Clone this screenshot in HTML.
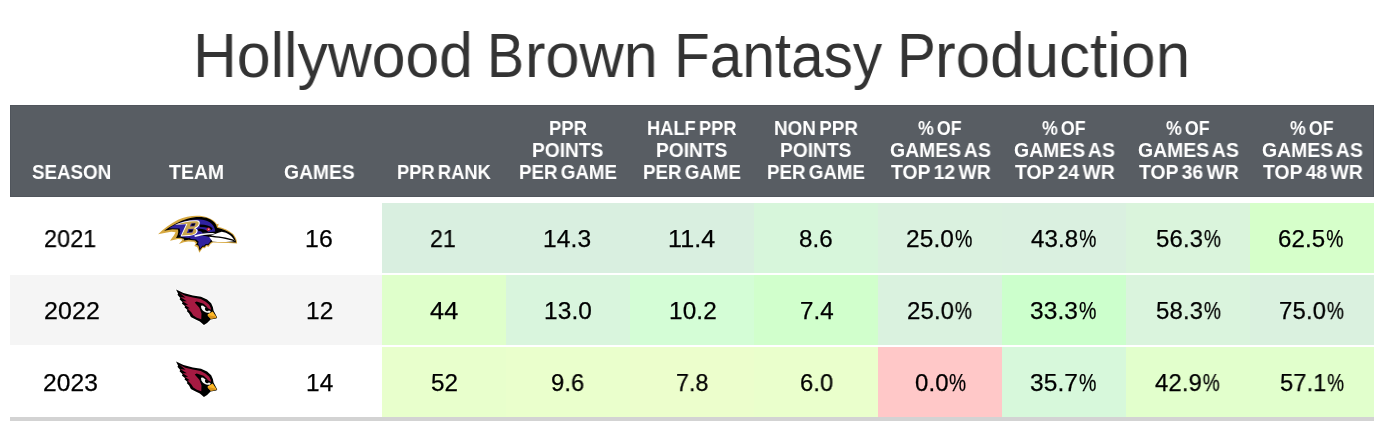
<!DOCTYPE html><html><head><meta charset="utf-8"><title>Hollywood Brown Fantasy Production</title><style>
html,body{margin:0;padding:0;background:#fff;}
body{width:1384px;height:428px;position:relative;overflow:hidden;font-family:"Liberation Sans",sans-serif;}
.a{position:absolute;}
.w,.h,.ct{will-change:transform;}
.w,.h{position:absolute;white-space:nowrap;transform-origin:0 0;}
.w{color:#333;font-size:63px;line-height:72px;}
.h{color:#fff;font-weight:bold;font-size:19.5px;line-height:22px;word-spacing:-1.9px;}
.c{position:absolute;height:70px;width:124px;}
.ct{position:absolute;white-space:nowrap;transform-origin:0 0;color:#000;font-size:24px;line-height:72px;height:70px;letter-spacing:0.1px;-webkit-text-stroke:0.25px #000;}
.p{display:inline-block;width:17.6px;transform:scaleX(0.8);transform-origin:0 50%;margin-left:0.8px;}
</style></head><body>
<div class="a" style="left:10px;top:105px;width:1364px;height:92px;background:#585d63;box-shadow:inset 0 0 0 1px #50555c;"></div>
<div class="c" style="left:382px;top:203px;background:#D9EFE0;"></div>
<div class="c" style="left:506px;top:203px;background:#D9EFE0;"></div>
<div class="c" style="left:630px;top:203px;background:#D9EFE0;"></div>
<div class="c" style="left:754px;top:203px;background:#D7F6DB;"></div>
<div class="c" style="left:878px;top:203px;background:#DAF1DF;"></div>
<div class="c" style="left:1002px;top:203px;background:#DAF0E0;"></div>
<div class="c" style="left:1126px;top:203px;background:#DAF4DC;"></div>
<div class="c" style="left:1250px;top:203px;background:#D6FFCA;"></div>
<div class="a" style="left:10px;top:275px;width:372px;height:70px;background:#f5f5f5;"></div>
<div class="c" style="left:382px;top:275px;background:#DFFFCB;"></div>
<div class="c" style="left:506px;top:275px;background:#D9F5DD;"></div>
<div class="c" style="left:630px;top:275px;background:#D4FDD6;"></div>
<div class="c" style="left:754px;top:275px;background:#D1FFCC;"></div>
<div class="c" style="left:878px;top:275px;background:#DAF2DF;"></div>
<div class="c" style="left:1002px;top:275px;background:#CCFFCC;"></div>
<div class="c" style="left:1126px;top:275px;background:#DAF4DD;"></div>
<div class="c" style="left:1250px;top:275px;background:#DAF1DF;"></div>
<div class="c" style="left:382px;top:347px;background:#E8FFCC;"></div>
<div class="c" style="left:506px;top:347px;background:#EAFFCC;"></div>
<div class="c" style="left:630px;top:347px;background:#ECFECC;"></div>
<div class="c" style="left:754px;top:347px;background:#EAFFCC;"></div>
<div class="c" style="left:878px;top:347px;background:#FFC8C8;"></div>
<div class="c" style="left:1002px;top:347px;background:#D7F8DB;"></div>
<div class="c" style="left:1126px;top:347px;background:#E2FFCC;"></div>
<div class="c" style="left:1250px;top:347px;background:#E1FFCC;"></div>
<div class="w" style="left:192.70px;top:19px;transform:scaleX(0.9634);">Hollywood</div>
<div class="w" style="left:487.40px;top:19px;transform:scaleX(0.8824);">B</div>
<div class="w" style="left:524.90px;top:19px;transform:scaleX(0.9725);">rown</div>
<div class="w" style="left:674.20px;top:19px;transform:scaleX(0.9292);">Fantasy</div>
<div class="w" style="left:896.70px;top:19px;transform:scaleX(0.9244);">P</div>
<div class="w" style="left:934.70px;top:19px;transform:scaleX(0.9842);">roduction</div>
<div class="h" style="left:32.00px;top:161px;transform:scaleX(0.9625);">SEASON</div>
<div class="h" style="left:168.65px;top:161px;transform:scaleX(0.9964);">TEAM</div>
<div class="h" style="left:284.35px;top:161px;transform:scaleX(0.9886);">GAMES</div>
<div class="h" style="left:397.00px;top:161px;transform:scaleX(0.9388);">PPR RANK</div>
<div class="h" style="left:549.00px;top:117px;transform:scaleX(0.9474);">PPR</div>
<div class="h" style="left:532.40px;top:139px;transform:scaleX(0.9831);">POINTS</div>
<div class="h" style="left:518.75px;top:161px;transform:scaleX(0.9601);">PER GAME</div>
<div class="h" style="left:647.25px;top:117px;transform:scaleX(0.9362);">HALF PPR</div>
<div class="h" style="left:656.40px;top:139px;transform:scaleX(0.9831);">POINTS</div>
<div class="h" style="left:642.75px;top:161px;transform:scaleX(0.9601);">PER GAME</div>
<div class="h" style="left:774.10px;top:117px;transform:scaleX(0.9671);">NON PPR</div>
<div class="h" style="left:780.40px;top:139px;transform:scaleX(0.9831);">POINTS</div>
<div class="h" style="left:766.75px;top:161px;transform:scaleX(0.9601);">PER GAME</div>
<div class="h" style="left:918.40px;top:117px;transform:scaleX(0.9089);">% OF</div>
<div class="h" style="left:889.95px;top:139px;transform:scaleX(0.9940);">GAMES AS</div>
<div class="h" style="left:890.60px;top:161px;transform:scaleX(0.9920);">TOP 12 WR</div>
<div class="h" style="left:1042.40px;top:117px;transform:scaleX(0.9089);">% OF</div>
<div class="h" style="left:1013.95px;top:139px;transform:scaleX(0.9940);">GAMES AS</div>
<div class="h" style="left:1014.60px;top:161px;transform:scaleX(0.9920);">TOP 24 WR</div>
<div class="h" style="left:1166.40px;top:117px;transform:scaleX(0.9089);">% OF</div>
<div class="h" style="left:1137.95px;top:139px;transform:scaleX(0.9940);">GAMES AS</div>
<div class="h" style="left:1138.60px;top:161px;transform:scaleX(0.9920);">TOP 36 WR</div>
<div class="h" style="left:1290.40px;top:117px;transform:scaleX(0.9089);">% OF</div>
<div class="h" style="left:1261.95px;top:139px;transform:scaleX(0.9940);">GAMES AS</div>
<div class="h" style="left:1262.60px;top:161px;transform:scaleX(0.9920);">TOP 48 WR</div>
<div class="ct" style="left:44.00px;top:203px;transform:scaleX(0.9728);">2021</div>
<div class="ct" style="left:305.40px;top:203px;transform:scaleX(1.0339);">16</div>
<div class="ct" style="left:429.60px;top:203px;transform:scaleX(0.9609);">21</div>
<div class="ct" style="left:543.10px;top:203px;transform:scaleX(1.0230);">14.3</div>
<div class="ct" style="left:667.80px;top:203px;transform:scaleX(1.0468);">11.4</div>
<div class="ct" style="left:798.90px;top:203px;transform:scaleX(1.0067);">8.6</div>
<div class="ct" style="left:906.10px;top:203px;transform:scaleX(1.0191);">25.0<span class="p">%</span></div>
<div class="ct" style="left:1030.90px;top:203px;transform:scaleX(1.0032);">43.8<span class="p">%</span></div>
<div class="ct" style="left:1155.50px;top:203px;transform:scaleX(0.9969);">56.3<span class="p">%</span></div>
<div class="ct" style="left:1278.40px;top:203px;transform:scaleX(1.0033);">62.5<span class="p">%</span></div>
<div class="ct" style="left:43.50px;top:275px;transform:scaleX(1.0394);">2022</div>
<div class="ct" style="left:305.80px;top:275px;transform:scaleX(1.0173);">12</div>
<div class="ct" style="left:430.20px;top:275px;transform:scaleX(1.0539);">44</div>
<div class="ct" style="left:543.50px;top:275px;transform:scaleX(1.0184);">13.0</div>
<div class="ct" style="left:668.50px;top:275px;transform:scaleX(1.0138);">10.2</div>
<div class="ct" style="left:799.70px;top:275px;transform:scaleX(1.0067);">7.4</div>
<div class="ct" style="left:906.80px;top:275px;transform:scaleX(0.9969);">25.0<span class="p">%</span></div>
<div class="ct" style="left:1030.40px;top:275px;transform:scaleX(1.0191);">33.3<span class="p">%</span></div>
<div class="ct" style="left:1155.50px;top:275px;transform:scaleX(0.9969);">58.3<span class="p">%</span></div>
<div class="ct" style="left:1278.80px;top:275px;transform:scaleX(0.9969);">75.0<span class="p">%</span></div>
<div class="ct" style="left:43.40px;top:347px;transform:scaleX(1.0232);">2023</div>
<div class="ct" style="left:305.80px;top:347px;transform:scaleX(1.0173);">14</div>
<div class="ct" style="left:431.40px;top:347px;transform:scaleX(1.0085);">52</div>
<div class="ct" style="left:550.80px;top:347px;transform:scaleX(0.9879);">9.6</div>
<div class="ct" style="left:675.90px;top:347px;transform:scaleX(0.9629);">7.8</div>
<div class="ct" style="left:800.00px;top:347px;transform:scaleX(0.9879);">6.0</div>
<div class="ct" style="left:914.90px;top:347px;transform:scaleX(1.0002);">0.0<span class="p">%</span></div>
<div class="ct" style="left:1030.40px;top:347px;transform:scaleX(1.0191);">35.7<span class="p">%</span></div>
<div class="ct" style="left:1155.20px;top:347px;transform:scaleX(0.9938);">42.9<span class="p">%</span></div>
<div class="ct" style="left:1279.60px;top:347px;transform:scaleX(0.9843);">57.1<span class="p">%</span></div>
<div class="a" style="left:10px;top:417px;width:1364px;height:4px;background:#d3d3d3;"></div>
<svg class="a" style="left:150px;top:210px;" width="96" height="48" viewBox="0 0 856 428">
<path fill="#d6a840" d="M72,216 C120,170 180,122 250,88 C320,58 400,44 470,56 C530,66 575,92 596,128 L612,122 L606,152 C645,158 705,180 742,215 C764,240 777,270 777,298 L700,295 L620,291 L562,290 L542,302 L524,328 L502,324 L490,340 L470,339 L454,362 L440,382 L428,347 L420,330 L396,320 L408,297 L392,283 L340,280 L300,288 L258,303 L284,272 L290,264 L250,258 L178,274 L214,226 L228,198 L190,194 L140,202 Z"/>
<path fill="#000" d="M126,186 C190,136 265,98 335,77 C400,60 470,57 524,77 C566,93 592,123 598,158 C640,166 700,188 737,221 C754,244 766,270 768,289 L700,286 L620,282 L556,280 L536,294 L520,315 L500,312 L488,327 L470,327 L452,347 L442,364 L437,337 L432,317 L410,310 L422,291 L402,271 L345,265 L300,273 L306,259 L270,247 L232,249 L246,222 L252,196 L250,174 L200,171 Z"/>
<path fill="#3022a0" d="M168,163 C225,126 285,104 342,94 C400,82 460,81 510,98 C544,110 566,134 576,163 L582,192 L500,200 L470,210 L425,238 L340,250 L285,240 L260,216 L270,194 L264,166 Z"/>
<path fill="#3022a0" d="M352,246 L400,236 L470,228 L522,238 L547,258 L532,290 L516,306 L497,304 L482,319 L466,319 L447,346 L440,322 L428,302 L434,282 L412,264 L365,258 Z"/>
<!-- brow streaks -->
<path fill="#000" d="M440,130 C490,128 532,140 558,162 L550,180 C530,158 496,150 446,151 Z"/>
<path fill="#000" d="M432,168 C470,166 500,176 520,196 L470,204 C460,190 448,184 428,184 Z"/>
<!-- B -->
<path fill="#fff" d="M222,132 C280,104 360,88 420,92 C445,95 450,115 440,135 C432,150 418,158 405,163 C428,172 430,190 418,206 C405,222 380,230 350,232 L272,236 L322,128 Z"/>
<path fill="#c9a54c" d="M240,130 C290,110 360,96 415,100 C438,104 438,122 428,136 C420,148 405,156 392,162 C415,170 418,188 408,202 C396,216 375,222 348,224 L284,228 L334,122 Z"/>
<path fill="#3022a0" d="M366,120 L408,118 L396,144 L356,148 Z"/>
<path fill="#000" d="M374,122 L402,121 L394,138 L368,140 Z"/>
<path fill="#3022a0" d="M343,170 L390,168 L378,200 L328,204 Z"/>
<path fill="#000" d="M352,176 L384,175 L374,194 L344,196 Z"/>
<!-- white streak -->
<path fill="#fff" d="M395,228 C440,212 500,204 560,206 L590,216 C520,214 450,226 400,240 Z"/>
<!-- beak -->
<path fill="#fff" d="M526,238 C560,224 600,204 640,195 C692,204 734,230 755,276 C700,288 620,288 558,280 Z"/>
<path fill="#000" d="M522,238 C600,244 690,256 756,280 L748,266 C690,246 600,234 540,228 Z"/>
<!-- eye -->
<circle cx="521" cy="172" r="17" fill="#c21d3a"/>
<circle cx="524" cy="172" r="6" fill="#f6d4d9"/>
</svg>
<!--CARD-->
<svg class="a" style="left:166px;top:284px;" width="60" height="50" viewBox="0 0 514 428">
<path fill="#fff" stroke="#fff" stroke-width="18" stroke-linejoin="round" d="M88,50 L150,80 L230,100 L300,112 L350,135 L385,165 L400,200 L405,226 L437,286 L430,294 L380,302 L350,332 L325,350 L290,320 L250,300 L215,280 L200,250 L170,215 L150,175 L125,140 L105,100 Z"/>
<path fill="#000" d="M86,48 L150,78 L230,98 L300,110 L352,133 L387,164 L402,200 L407,226 L439,286 L431,296 L382,304 L352,334 L325,352 L290,322 L250,302 L213,282 L198,252 L178,232 L184,222 L158,200 L164,190 L136,166 L142,156 L116,130 L122,120 L98,92 L104,84 Z"/>
<path fill="#a61a42" d="M116,74 L165,100 L230,116 L298,129 L340,151 L370,178 L384,206 L386,224 L372,236 L352,196 L322,168 L262,150 L246,158 L286,204 L304,252 L302,302 L264,288 L234,270 L216,242 L184,210 L204,208 L162,180 L190,178 L142,148 L178,148 L122,112 L168,118 Z"/>
<path fill="#f6f6f6" d="M300,186 C298,220 328,250 376,246 L384,228 L316,184 Z"/>
<path fill="#000" d="M312,182 L388,222 L384,232 L366,226 C360,236 344,234 337,224 C331,214 334,206 340,202 Z"/>
<path fill="#fdb827" d="M357,258 L400,235 L434,284 L428,292 L383,298 L358,274 Z"/>
<path fill="#d9931c" d="M360,266 L418,279 L432,288 L383,297 Z"/>
</svg>
<svg class="a" style="left:166px;top:356px;" width="60" height="50" viewBox="0 0 514 428">
<path fill="#fff" stroke="#fff" stroke-width="18" stroke-linejoin="round" d="M88,50 L150,80 L230,100 L300,112 L350,135 L385,165 L400,200 L405,226 L437,286 L430,294 L380,302 L350,332 L325,350 L290,320 L250,300 L215,280 L200,250 L170,215 L150,175 L125,140 L105,100 Z"/>
<path fill="#000" d="M86,48 L150,78 L230,98 L300,110 L352,133 L387,164 L402,200 L407,226 L439,286 L431,296 L382,304 L352,334 L325,352 L290,322 L250,302 L213,282 L198,252 L178,232 L184,222 L158,200 L164,190 L136,166 L142,156 L116,130 L122,120 L98,92 L104,84 Z"/>
<path fill="#a61a42" d="M116,74 L165,100 L230,116 L298,129 L340,151 L370,178 L384,206 L386,224 L372,236 L352,196 L322,168 L262,150 L246,158 L286,204 L304,252 L302,302 L264,288 L234,270 L216,242 L184,210 L204,208 L162,180 L190,178 L142,148 L178,148 L122,112 L168,118 Z"/>
<path fill="#f6f6f6" d="M300,186 C298,220 328,250 376,246 L384,228 L316,184 Z"/>
<path fill="#000" d="M312,182 L388,222 L384,232 L366,226 C360,236 344,234 337,224 C331,214 334,206 340,202 Z"/>
<path fill="#fdb827" d="M357,258 L400,235 L434,284 L428,292 L383,298 L358,274 Z"/>
<path fill="#d9931c" d="M360,266 L418,279 L432,288 L383,297 Z"/>
</svg>

</body></html>
